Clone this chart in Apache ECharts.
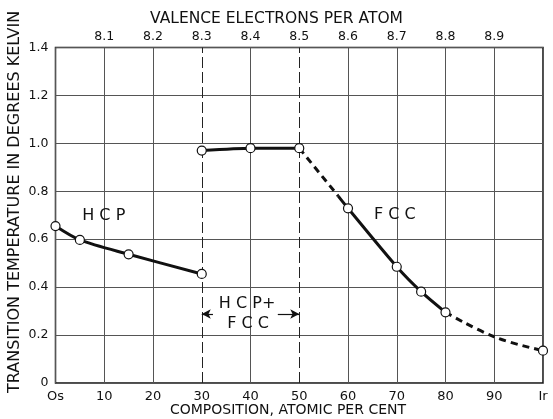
<!DOCTYPE html>
<html>
<head>
<meta charset="utf-8">
<script src="https://cdn.jsdelivr.net/npm/echarts@6/dist/echarts.min.js"></script>
<style>
html,body{margin:0;padding:0;background:#fff;}
#c{width:553px;height:419px;}
</style>
</head>
<body>
<div id="c"></div>
<script>
// ---- data (composition in atomic % Ir, transition temperature in K) ----
const compTicks = [0,10,20,30,40,50,60,70,80,90,100];
const compLabels = ['Os','10','20','30','40','50','60','70','80','90','Ir'];
const valenceLabels = ['','8.1','8.2','8.3','8.4','8.5','8.6','8.7','8.8','8.9',''];
const tempLabels = ['0','0.2','0.4','0.6','0.8','1.0','1.2','1.4'];

// HCP branch (solid)
const hcpX = [0, 5, 15, 30];
const hcpY = [0.655, 0.597, 0.537, 0.455];
// FCC plateau (solid)
const fccTopX = [30, 40, 50];
const fccTopY = [0.97, 0.98, 0.98];
// FCC dashed drop
const fccDash1X = [50, 58];
const fccDash1Y = [0.98, 0.78];
// FCC solid descent
const fccSolidX = [58, 60, 70, 75, 80];
const fccSolidY = [0.78, 0.729, 0.485, 0.381, 0.295];
// FCC dashed tail
const fccDash2X = [80, 90, 100];
const fccDash2Y = [0.295, 0.193, 0.135];
// measured points (open circles)
const measX = [0, 5, 15, 30, 30, 40, 50, 60, 70, 75, 80, 100];
const measY = [0.655, 0.597, 0.537, 0.455, 0.97, 0.98, 0.98, 0.729, 0.485, 0.381, 0.295, 0.135];

const zip = (xs, ys) => xs.map((x, i) => [x, ys[i]]);

const FONT = 'DejaVu Sans';
const gridColors = compTicks.map(v => (v === 30 || v === 50) ? 'rgba(0,0,0,0)' : '#555');

const lineSeries = (name, xs, ys, dashed, smooth) => ({
  name, type: 'line', data: zip(xs, ys), showSymbol: false, symbol: 'none',
  smooth: smooth, silent: true, z: 3,
  lineStyle: { color: '#111', width: 3, type: dashed ? [7, 5] : 'solid' }
});

const chart = echarts.init(document.getElementById('c'), null, { renderer: 'canvas' });
chart.setOption({
  animation: false,
  backgroundColor: '#fff',
  grid: { left: 55.5, right: 10, top: 47.5, bottom: 36, show: true, borderColor: '#111', borderWidth: 1.5, backgroundColor: 'transparent' },
  xAxis: [
    {
      type: 'value', position: 'bottom', min: 0, max: 100, interval: 10,
      axisLine: { show: false }, axisTick: { show: false },
      splitLine: { show: true, lineStyle: { color: gridColors, width: 1 } },
      axisLabel: { margin: 7, color: '#111', fontFamily: FONT, fontSize: 13,
        formatter: v => compLabels[compTicks.indexOf(v)] }
    },
    {
      type: 'value', position: 'top', min: 0, max: 100, interval: 10,
      axisLine: { show: false }, axisTick: { show: false }, splitLine: { show: false },
      axisLabel: { margin: 4, color: '#111', fontFamily: FONT, fontSize: 12.5,
        formatter: v => valenceLabels[compTicks.indexOf(v)] }
    }
  ],
  yAxis: {
    type: 'value', min: 0, max: 1.4, interval: 0.2,
    axisLine: { show: false }, axisTick: { show: false },
    splitLine: { show: true, lineStyle: { color: '#555', width: 1 } },
    axisLabel: { margin: 7, color: '#111', fontFamily: FONT, fontSize: 12.5,
      formatter: v => tempLabels[Math.round(v / 0.2)] }
  },
  series: [
    {
      name: 'guides', type: 'line', data: [], silent: true,
      markLine: {
        silent: true, symbol: 'none', label: { show: false },
        lineStyle: { color: '#222', width: 1, type: [11, 4] },
        data: [{ xAxis: 30 }, { xAxis: 50 }]
      }
    },
    {
      name: 'arrows', type: 'line', data: [], silent: true,
      markLine: {
        silent: true, symbol: ['none', 'arrow'], symbolSize: [7, 9], label: { show: false },
        lineStyle: { color: '#111', width: 1.2, type: 'solid' },
        data: [
          [{ coord: [32.3, 0.288] }, { coord: [30, 0.288] }],
          [{ coord: [45.6, 0.288] }, { coord: [50, 0.288] }]
        ]
      }
    },
    {
      name: 'annotations', type: 'scatter', silent: true, z: 6,
      symbol: 'circle', symbolSize: 1,
      itemStyle: { color: 'rgba(0,0,0,0)', opacity: 1 },
      label: { show: true, position: 'inside', color: '#111', opacity: 1, fontFamily: FONT, fontSize: 16,
        formatter: p => p.name },
      data: [
        { name: 'H C P', value: [9.9, 0.697] },
        { name: 'F C C', value: [69.6, 0.70] },
        { name: 'H C P+', value: [39.3, 0.33] },
        { name: 'F C C', value: [39.5, 0.248] }
      ]
    },
    lineSeries('hcp', hcpX, hcpY, false, 0.3),
    lineSeries('fccTop', fccTopX, fccTopY, false, 0.2),
    lineSeries('fccDash1', fccDash1X, fccDash1Y, true, false),
    lineSeries('fccSolid', fccSolidX, fccSolidY, false, 0.3),
    lineSeries('fccDash2', fccDash2X, fccDash2Y, true, 0.4),
    {
      name: 'measured', type: 'scatter', data: zip(measX, measY), z: 5,
      symbol: 'circle', symbolSize: 9,
      itemStyle: { color: '#ffffff', opacity: 1, borderColor: '#111', borderWidth: 1.2 }
    }
  ],
  graphic: [
    { type: 'text', left: 'center', top: 11, style: { text: 'VALENCE ELECTRONS PER ATOM', fill: '#111', font: '15.5px "DejaVu Sans"' } },
    { type: 'text', top: 403, left: 170, style: { text: 'COMPOSITION, ATOMIC PER CENT', fill: '#111', font: '14px "DejaVu Sans"' } },
    { type: 'text', x: 7, y: 393, rotation: Math.PI / 2, style: { text: 'TRANSITION TEMPERATURE IN DEGREES KELVIN', fill: '#111', font: '16px "DejaVu Sans"', verticalAlign: 'top' } }
  ]
});
</script>
</body>
</html>
